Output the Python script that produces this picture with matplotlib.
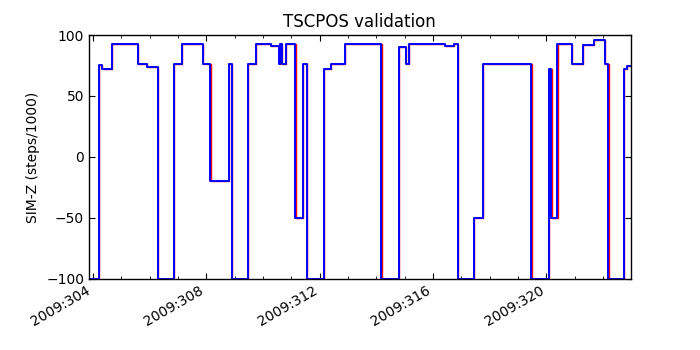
import matplotlib
matplotlib.use("Agg")
import matplotlib.pyplot as plt
from matplotlib.ticker import MultipleLocator, FuncFormatter

# Day-of-year (2009) where each step starts, and SIM-Z value (steps/1000)
blue_t = [303.85, 304.21, 304.33, 304.68, 305.59, 305.92, 306.29, 306.86, 307.14,
          307.88, 308.14, 308.79, 308.90, 309.49, 309.76, 310.29, 310.58, 310.62,
          310.68, 310.81, 311.15, 311.41, 311.55, 312.15, 312.41, 312.91, 314.18,
          314.82, 315.06, 315.14, 316.44, 316.73, 316.88, 317.45, 317.78, 319.47,
          320.09, 320.18, 320.39, 320.91, 321.31, 321.67, 322.09, 322.18, 322.73,
          322.85, 322.98]
blue_v = [-100, 75, 72, 93, 76, 73.5, -100, 76, 93,
          76, -20, 76, -100, 76, 93, 91, 76, 93,
          76, 93, -50, 76, -100, 72.5, 76, 93, -100,
          90, 76, 93, 91, 93, -100, -50, 76, -100,
          72, -50, 93, 76, 92, 96, 76, -100, 72,
          74.5, 74.5]

red_t = [303.85, 304.21, 304.33, 304.68, 305.59, 305.92, 306.30, 306.87, 307.14,
         307.88, 308.16, 308.79, 308.92, 309.49, 309.76, 310.29, 310.59, 310.62,
         310.69, 310.81, 311.17, 311.41, 311.57, 312.17, 312.41, 312.91, 314.21,
         314.82, 315.06, 315.14, 316.44, 316.73, 316.90, 317.45, 317.78, 319.50,
         320.09, 320.20, 320.40, 320.91, 321.31, 321.67, 322.09, 322.20, 322.74,
         322.85, 322.98]
red_v = blue_v

xlim = (303.86, 322.98)
ylim = (-100, 100)

plt.rcParams.update({
    "font.family": "DejaVu Sans",
    "xtick.direction": "in",
    "ytick.direction": "in",
    "xtick.top": True,
    "ytick.right": True,
    "xtick.major.size": 4,
    "xtick.minor.size": 2,
    "ytick.major.size": 4,
})

fig = plt.figure(figsize=(7, 3.5), dpi=100, facecolor="white")
ax = fig.add_axes([0.127, 0.203, 0.774, 0.697])

ax.plot(red_t, red_v, color="red", lw=1.0, drawstyle="steps-post")
ax.plot(blue_t, blue_v, color="blue", lw=1.4, drawstyle="steps-post")

ax.set_xlim(*xlim)
ax.set_ylim(*ylim)
ax.yaxis.set_major_locator(MultipleLocator(50))
ax.xaxis.set_major_locator(MultipleLocator(4))
ax.xaxis.set_minor_locator(MultipleLocator(1))
ax.xaxis.set_major_formatter(FuncFormatter(lambda x, p: "2009:%03d" % round(x)))
ax.tick_params(labelsize=10)
for lab in ax.get_xticklabels():
    lab.set_rotation(30)
    lab.set_ha("right")

ax.set_title("TSCPOS validation", fontsize=12)
ax.set_ylabel("SIM-Z (steps/1000)", fontsize=10)
for s in ax.spines.values():
    s.set_linewidth(1.0)

fig.savefig("out.png", dpi=100, facecolor="white")
